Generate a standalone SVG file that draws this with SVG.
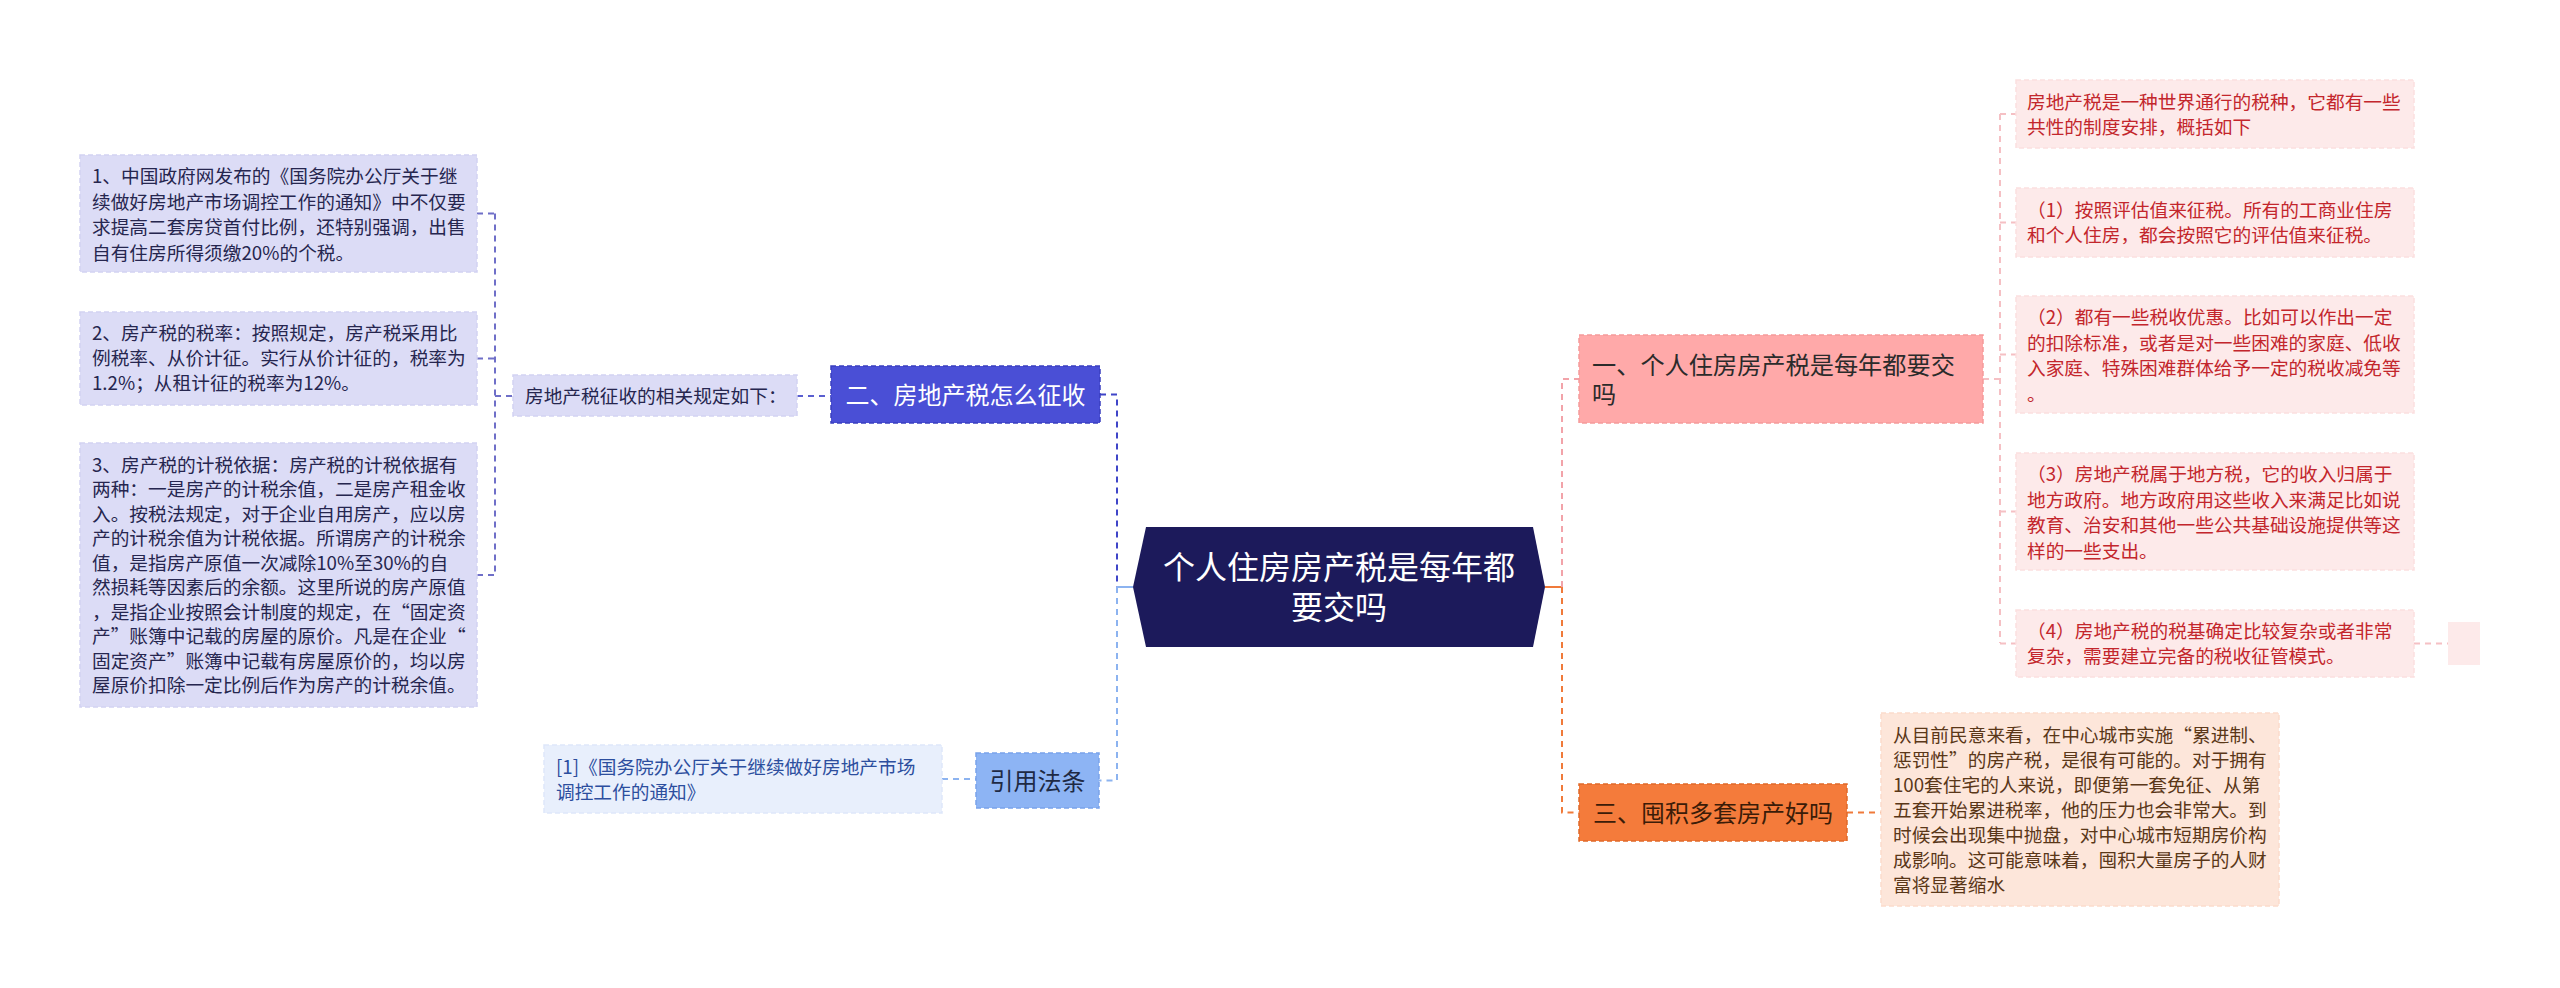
<svg xmlns="http://www.w3.org/2000/svg" width="2560" height="988" viewBox="0 0 2560 988">
<style>
text{font-family:"Noto Sans CJK SC","Noto Sans",sans-serif;}
.leafL{fill:#dcdcf6;stroke:#d2d2f2;stroke-width:1.5;stroke-dasharray:5,3;}
.tL{font-size:18.7px;fill:#26264f;}
.leafR{fill:#fdeaea;stroke:#fbe0e0;stroke-width:1.5;stroke-dasharray:5,3;}
.tR{font-size:18.7px;fill:#c3262c;}
.leafO{fill:#fde6da;stroke:#fbdccb;stroke-width:1.5;stroke-dasharray:5,3;}
.tO{font-size:18.7px;fill:#5a3718;}
.leafB{fill:#e8effc;stroke:#dee7fa;stroke-width:1.5;stroke-dasharray:5,3;}
.tB{font-size:18.7px;fill:#2c4e9e;}
.c{fill:none;stroke-width:2;stroke-dasharray:6,5;}
</style>
<rect width="2560" height="988" fill="#ffffff"/>
<g id="connectors">
  <path class="c" stroke="#6f6fc8" d="M477,213.5 H495 M477,358.5 H495 M477,575 H495 M495,213.5 V575 M495,396 H513"/>
  <path class="c" stroke="#5a5fd0" d="M797,396 H831"/>
  <path class="c" stroke="#3f45c8" d="M1100,394.5 H1117 V587"/>
  <path class="c" stroke="#8cb3f0" d="M1117,587 V780.5 H1099"/>
  <path class="c" stroke="#8cb3f0" d="M942,779 H976"/>
  <path fill="none" stroke="#8cb3f0" stroke-width="2" d="M1117,587 H1133"/>
  <path fill="none" stroke="#f07a3a" stroke-width="2" d="M1545,587 H1562"/>
  <path class="c" stroke="#f2a3a9" d="M1562,587 V379 H1579"/>
  <path class="c" stroke="#f07a3a" d="M1562,587 V812.5 H1579"/>
  <path class="c" stroke="#f07a3a" d="M1847,812.5 H1881"/>
  <path class="c" stroke="#f5c0c4" d="M1983,379 H2000 M2000,114 V643 M2000,114 H2016 M2000,222.5 H2016 M2000,354.5 H2016 M2000,511.5 H2016 M2000,643.5 H2016 M2414,643.5 H2448"/>
</g>
<g id="center">
  <polygon points="1133,587 1146,527 1533,527 1545,587 1533,647 1146,647" fill="#1c1a5b"/>
  <text x="1339" y="579" font-size="32" fill="#ffffff" text-anchor="middle">个人住房房产税是每年都</text>
  <text x="1339" y="619" font-size="32" fill="#ffffff" text-anchor="middle">要交吗</text>
</g>
<g id="branch1">
  <rect x="1579" y="335" width="404" height="88" fill="#ffa9a9" stroke="#f59a9a" stroke-width="1.5" stroke-dasharray="5,3"/>
  <text x="1592" y="374" font-size="24.2" fill="#2b2b2b">一、个人住房房产税是每年都要交</text>
  <text x="1592" y="403" font-size="24.2" fill="#2b2b2b">吗</text>
</g>
<g id="r1">
  <rect class="leafR" x="2016" y="80" width="398" height="68"/>
  <text class="tR" x="2027" y="108.5">房地产税是一种世界通行的税种，它都有一些</text>
  <text class="tR" x="2027" y="133.5">共性的制度安排，概括如下</text>
</g>
<g id="r2">
  <rect class="leafR" x="2016" y="188" width="398" height="69"/>
  <text class="tR" x="2027" y="217">（1）按照评估值来征税。所有的工商业住房</text>
  <text class="tR" x="2027" y="242">和个人住房，都会按照它的评估值来征税。</text>
</g>
<g id="r3">
  <rect class="leafR" x="2016" y="296" width="398" height="117"/>
  <text class="tR" x="2027" y="324">（2）都有一些税收优惠。比如可以作出一定</text>
  <text class="tR" x="2027" y="349.5">的扣除标准，或者是对一些困难的家庭、低收</text>
  <text class="tR" x="2027" y="375">入家庭、特殊困难群体给予一定的税收减免等</text>
  <text class="tR" x="2027" y="400.5">。</text>
</g>
<g id="r4">
  <rect class="leafR" x="2016" y="453" width="398" height="117"/>
  <text class="tR" x="2027" y="481">（3）房地产税属于地方税，它的收入归属于</text>
  <text class="tR" x="2027" y="506.5">地方政府。地方政府用这些收入来满足比如说</text>
  <text class="tR" x="2027" y="532">教育、治安和其他一些公共基础设施提供等这</text>
  <text class="tR" x="2027" y="557.5">样的一些支出。</text>
</g>
<g id="r5">
  <rect class="leafR" x="2016" y="610" width="398" height="67"/>
  <text class="tR" x="2027" y="638">（4）房地产税的税基确定比较复杂或者非常</text>
  <text class="tR" x="2027" y="663">复杂，需要建立完备的税收征管模式。</text>
</g>
<g id="r6">
  <rect x="2448" y="622" width="32" height="43" fill="#fdeaea"/>
</g>
<g id="branch3">
  <rect x="1579" y="784" width="268" height="57" fill="#f47b3b" stroke="#e0692a" stroke-width="1.5" stroke-dasharray="5,3"/>
  <text x="1713" y="821.5" font-size="24" fill="#3b1c08" text-anchor="middle">三、囤积多套房产好吗</text>
</g>
<g id="o1">
  <rect class="leafO" x="1881" y="713" width="398" height="193"/>
  <text class="tO" x="1893" y="741.5">从目前民意来看，在中心城市实施“累进制、</text>
  <text class="tO" x="1893" y="766.5">惩罚性”的房产税，是很有可能的。对于拥有</text>
  <text class="tO" x="1893" y="791.5">100套住宅的人来说，即便第一套免征、从第</text>
  <text class="tO" x="1893" y="816.5">五套开始累进税率，他的压力也会非常大。到</text>
  <text class="tO" x="1893" y="841.5">时候会出现集中抛盘，对中心城市短期房价构</text>
  <text class="tO" x="1893" y="866.5">成影响。这可能意味着，囤积大量房子的人财</text>
  <text class="tO" x="1893" y="891.5">富将显著缩水</text>
</g>
<g id="branch2">
  <rect x="831" y="366" width="269" height="57" fill="#4a4fd6" stroke="#3a3fc0" stroke-width="1.5" stroke-dasharray="5,3"/>
  <text x="965.5" y="403.5" font-size="24" fill="#ffffff" text-anchor="middle">二、房地产税怎么征收</text>
</g>
<g id="mid2">
  <rect class="leafL" x="513" y="375" width="284" height="41"/>
  <text class="tL" x="525" y="402.5">房地产税征收的相关规定如下：</text>
</g>
<g id="l1">
  <rect class="leafL" x="80" y="155" width="397" height="117"/>
  <text class="tL" x="92" y="183">1、中国政府网发布的《国务院办公厅关于继</text>
  <text class="tL" x="92" y="208.5">续做好房地产市场调控工作的通知》中不仅要</text>
  <text class="tL" x="92" y="234">求提高二套房贷首付比例，还特别强调，出售</text>
  <text class="tL" x="92" y="259.5">自有住房所得须缴20%的个税。</text>
</g>
<g id="l2">
  <rect class="leafL" x="80" y="312" width="397" height="93"/>
  <text class="tL" x="92" y="340">2、房产税的税率：按照规定，房产税采用比</text>
  <text class="tL" x="92" y="365">例税率、从价计征。实行从价计征的，税率为</text>
  <text class="tL" x="92" y="390">1.2%；从租计征的税率为12%。</text>
</g>
<g id="l3">
  <rect class="leafL" x="80" y="443" width="397" height="264"/>
  <text class="tL" x="92" y="471.5">3、房产税的计税依据：房产税的计税依据有</text>
  <text class="tL" x="92" y="496">两种：一是房产的计税余值，二是房产租金收</text>
  <text class="tL" x="92" y="520.5">入。按税法规定，对于企业自用房产，应以房</text>
  <text class="tL" x="92" y="545">产的计税余值为计税依据。所谓房产的计税余</text>
  <text class="tL" x="92" y="569.5">值，是指房产原值一次减除10%至30%的自</text>
  <text class="tL" x="92" y="594">然损耗等因素后的余额。这里所说的房产原值</text>
  <text class="tL" x="92" y="618.5">，是指企业按照会计制度的规定，在“固定资</text>
  <text class="tL" x="92" y="643">产”账簿中记载的房屋的原价。凡是在企业“</text>
  <text class="tL" x="92" y="667.5">固定资产”账簿中记载有房屋原价的，均以房</text>
  <text class="tL" x="92" y="692">屋原价扣除一定比例后作为房产的计税余值。</text>
</g>
<g id="cite">
  <rect x="976" y="753" width="123" height="55" fill="#8db4f4" stroke="#7aa3ea" stroke-width="1.5" stroke-dasharray="5,3"/>
  <text x="1037.5" y="789.5" font-size="24" fill="#1e2a44" text-anchor="middle">引用法条</text>
</g>
<g id="cite1">
  <rect class="leafB" x="544" y="745" width="398" height="68"/>
  <text class="tB" x="556" y="773.5">[1]《国务院办公厅关于继续做好房地产市场</text>
  <text class="tB" x="556" y="798.5">调控工作的通知》</text>
</g>
</svg>
